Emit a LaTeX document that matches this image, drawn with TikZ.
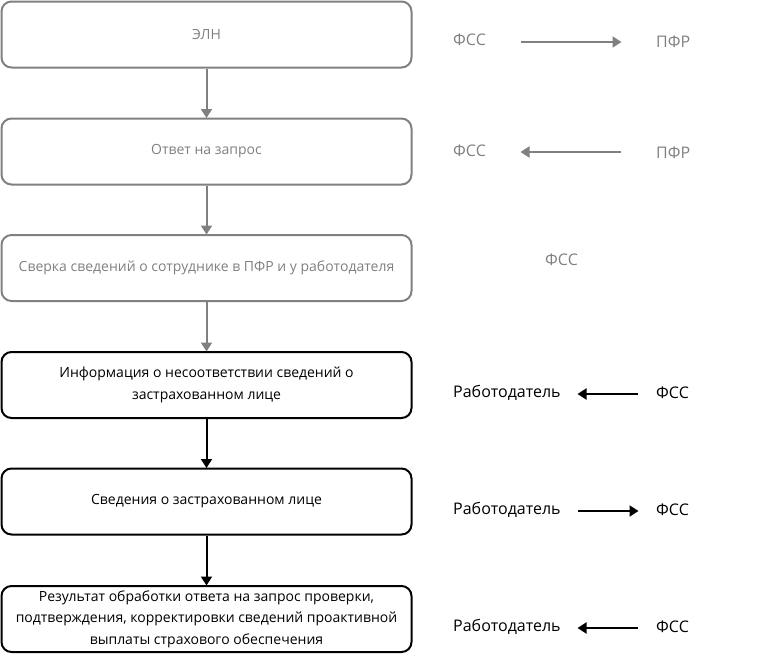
\documentclass[tikz,border=0pt]{standalone}
\usepackage{fontspec}
\setmainfont{Open Sans}
\usetikzlibrary{arrows.meta}
\definecolor{gr}{HTML}{808080}
\begin{document}
\begin{tikzpicture}[x=1pt,y=-1pt,
  box/.style={draw, rounded corners=10pt, line width=2pt, minimum width=410pt, minimum height=66pt, inner sep=0pt, align=center, font=\fontsize{14}{21.5}\selectfont},
  gbox/.style={box, draw=gr, text=gr},
  bbox/.style={box, draw=black, text=black},
  lab/.style={inner sep=0pt, anchor=west, font=\fontsize{16}{19}\selectfont},
  glab/.style={lab, text=gr},
  garr/.style={draw=gr, line width=2pt, -{Triangle[length=9pt,width=11pt]}, shorten >=-0.5pt},
  barr/.style={draw=black, line width=2pt, -{Triangle[length=9pt,width=11pt]}, shorten >=-0.5pt}
]
\useasboundingbox (0,0) rectangle (757,654);
\node[gbox] (b1) at (206.5,34.5) {ЭЛН};
\node[gbox] (b2) at (206.5,151.5) {Ответ на запрос};
\node[gbox] (b3) at (206.5,268) {Сверка сведений о сотруднике в ПФР и у работодателя};
\node[bbox] (b4) at (206.5,385) {Информация о несоответствии сведений о\\застрахованном лице};
\node[bbox] (b5) at (206.5,501.5) {Сведения о застрахованном лице};
\node[bbox] (b6) at (206.5,619) {Результат обработки ответа на запрос проверки,\\подтверждения, корректировки сведений проактивной\\выплаты страхового обеспечения};
\draw[garr] (b1) -- (b2);
\draw[garr] (b2) -- (b3);
\draw[garr] (b3) -- (b4);
\draw[barr] (b4) -- (b5);
\draw[barr] (b5) -- (b6);

\node[glab] (f1) at (453,40) {ФСС};
\node[glab] (p1) at (656,42) {ПФР};
\coordinate (a1s) at (521,42); \coordinate (a1e) at (621,42);
\draw[garr] (a1s) -- (a1e);
\node[glab] (f2) at (453,151) {ФСС};
\node[glab] (p2) at (656,153) {ПФР};
\coordinate (a2s) at (621,152); \coordinate (a2e) at (521,152);
\draw[garr] (a2s) -- (a2e);
\node[glab] (f3) at (545,260) {ФСС};

\node[lab] (r4) at (453,393) {Работодатель};
\node[lab] (s4) at (656,393) {ФСС};
\coordinate (a4s) at (638,394); \coordinate (a4e) at (578,394);
\draw[barr] (a4s) -- (a4e);
\node[lab] (r5) at (453,510) {Работодатель};
\node[lab] (s5) at (656,510) {ФСС};
\coordinate (a5s) at (578,511); \coordinate (a5e) at (638,511);
\draw[barr] (a5s) -- (a5e);
\node[lab] (r6) at (453,627) {Работодатель};
\node[lab] (s6) at (656,627) {ФСС};
\coordinate (a6s) at (638,628); \coordinate (a6e) at (578,628);
\draw[barr] (a6s) -- (a6e);
\end{tikzpicture}
\end{document}
